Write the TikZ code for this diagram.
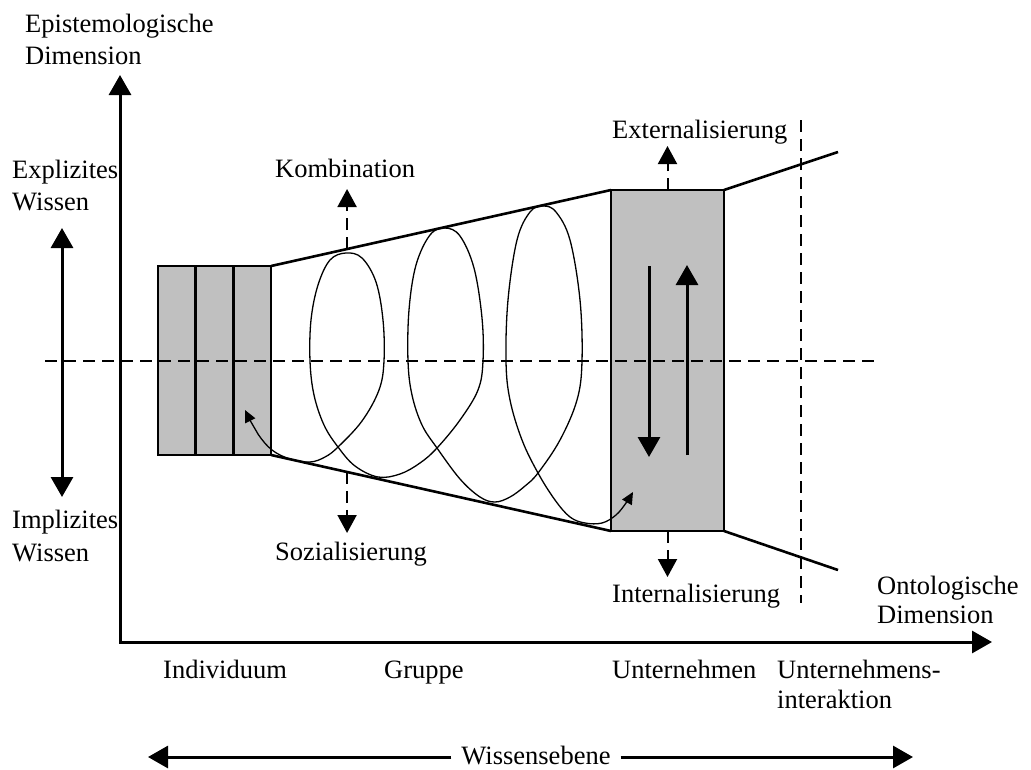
\documentclass[tikz,border=0pt]{standalone}
\usepackage{fontspec}
\setmainfont{Liberation Serif}
\usetikzlibrary{arrows.meta,calc}
\definecolor{boxgray}{RGB}{192,192,192}
\begin{document}
\begin{tikzpicture}[x=1pt,y=-1pt,
  lbl/.style={anchor=base west,inner sep=0pt,font=\fontsize{26.5}{31}\selectfont},
  bigtip/.style={line width=3pt,-{Triangle[length=20pt,width=22pt]}},
  bothtips/.style={line width=3pt,{Triangle[length=20pt,width=22pt]}-{Triangle[length=20pt,width=22pt]}},
  shaded/.style={draw,line width=2.5pt,fill=boxgray,inner sep=0pt,outer sep=0pt,anchor=north west},
  funnel/.style={line width=2.6pt},
  guide/.style={line width=2pt,dash pattern=on 12pt off 7pt},
  dasharrow/.style={guide,-{Triangle[length=18pt,width=19pt]}},
  spiral/.style={line width=1.3pt,{Triangle[length=12pt,width=11pt]}-{Triangle[length=12pt,width=11pt]}},
]
\useasboundingbox (0,0) rectangle (1031,769);

% knowledge carriers: individuals and the organisation
\node[shaded,minimum width=37.7pt,minimum height=189pt] (s1) at (158,266) {};
\node[shaded,minimum width=37.7pt,minimum height=189pt] (s2) at (s1.north east) {};
\node[shaded,minimum width=37.7pt,minimum height=189pt] (s3) at (s2.north east) {};
\node[shaded,minimum width=113pt,minimum height=341pt] (big) at (611,190) {};

% funnel outline
\coordinate (outT) at (838,152);
\coordinate (outB) at (838,570);
\draw[funnel] (s3.north east) -- (big.north west);
\draw[funnel] (s3.south east) -- (big.south west);
\draw[funnel] (big.north east) -- (outT);
\draw[funnel] (big.south east) -- (outB);

% knowledge spiral
\draw[spiral] plot[smooth,tension=0.6] coordinates {
  (245,410) (258,434) (272,450) (290,459) (310,462) (325,457) (338,447)
  (362,421) (379,390) (384,361) (383,320) (376,282) (362,258) (346,253)
  (330,260) (318,285) (311,320) (310,361) (314,395) (324,425) (338,447)
  (355,466) (378,477) (400,474) (420,463) (437,448) (460,420) (478,390)
  (483,361) (482,318) (474,268) (460,236) (445,228) (430,235) (416,265)
  (409,310) (408,361) (412,395) (422,425) (437,448) (460,479) (480,497)
  (495,502) (510,497) (525,486) (538,473) (560,440) (577,400) (582,361)
  (580,300) (570,240) (556,212) (543,206) (530,212) (517,240) (508,300)
  (506,361) (510,400) (522,440) (538,473) (555,500) (570,517) (585,523)
  (602,523) (616,515) (626,503) (633,492)};

% guide lines
\coordinate (hL) at (45,361);
\coordinate (hR) at (877,361);
\coordinate (vT) at (801,120);
\coordinate (vB) at (801,603);
\draw[guide] (hL) -- (hR);
\draw[guide] (vT) -- (vB);

% conversion arrows
\path (s3.north east) -- (big.north west) coordinate[pos=0.2235] (kBase);
\path (s3.south east) -- (big.south west) coordinate[pos=0.2235] (sBase);
\coordinate (kTip) at (347,189);
\coordinate (sTip) at (347,533);
\coordinate (eTip) at (668,146);
\coordinate (iTip) at (668,577);
\draw[dasharrow] (kBase) -- (kBase |- kTip);
\draw[dasharrow] (sBase) -- (sBase |- sTip);
\draw[dasharrow] (big.north) -- (big.north |- eTip);
\draw[dasharrow] (big.south) -- (big.south |- iTip);

% arrows inside the organisation box
\coordinate (dA) at (649,266);
\coordinate (dB) at (649,457);
\coordinate (uA) at (687,455);
\coordinate (uB) at (687,265);
\draw[bigtip] (dA) -- (dB);
\draw[bigtip] (uA) -- (uB);

% axes
\coordinate (O) at (120,642);
\coordinate (yTip) at (120,75);
\coordinate (xTip) at (992,642);
\draw[bothtips] (yTip) -- (O) -- (xTip);

% explicit / implicit arrow
\coordinate (eiT) at (62,228);
\coordinate (eiB) at (62,497);
\draw[bothtips] (eiT) -- (eiB);

% labels
\node[lbl] (epi1) at (25,32) {Epistemologische};
\node[lbl] (epi2) at (25,64) {Dimension};
\node[lbl] (ex1) at (12,178) {Explizites};
\node[lbl] (ex2) at (12,210) {Wissen};
\node[lbl] (im1) at (12,528) {Implizites};
\node[lbl] (im2) at (12,561) {Wissen};
\node[lbl] (kom) at (275,177) {Kombination};
\node[lbl] (ext) at (612,138) {Externalisierung};
\node[lbl] (soz) at (275,560) {Sozialisierung};
\node[lbl] (int) at (612,602) {Internalisierung};
\node[lbl] (ont1) at (877,594) {Ontologische};
\node[lbl] (ont2) at (877,623) {Dimension};
\node[lbl] (ind) at (163,678) {Individuum};
\node[lbl] (gru) at (384,678) {Gruppe};
\node[lbl] (unt) at (612,678) {Unternehmen};
\node[lbl] (uia1) at (777,678) {Unternehmens-};
\node[lbl] (uia2) at (777,708) {interaktion};

% level of knowledge
\node[anchor=base,inner xsep=10pt,inner ysep=0pt,font=\fontsize{26.5}{31}\selectfont] (wiss) at (536,764) {Wissensebene};
\coordinate (wl) at (148,757);
\coordinate (wr) at (913,757);
\draw[bigtip] (wiss.west |- wl) -- (wl);
\draw[bigtip] (wiss.east |- wr) -- (wr);
\end{tikzpicture}
\end{document}
